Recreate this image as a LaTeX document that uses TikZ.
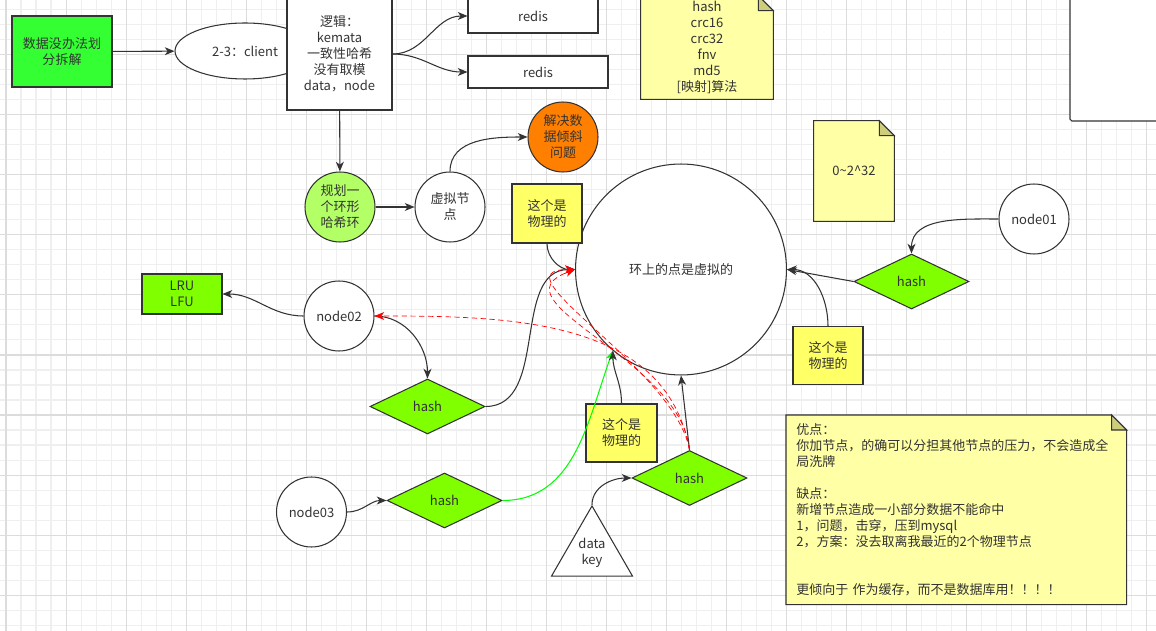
\documentclass[tikz,border=0pt]{standalone}
\usepackage{fontspec}
\setmainfont{Noto Sans CJK SC}
\usetikzlibrary{arrows.meta,shapes.geometric,backgrounds,positioning}
\definecolor{linec}{HTML}{333333}
\definecolor{brightgreen}{HTML}{33FF33}
\definecolor{limegreen}{HTML}{80FF00}
\definecolor{palegreen}{HTML}{B3FF66}
\definecolor{orangec}{HTML}{FF8000}
\definecolor{yellowc}{HTML}{FFFF66}
\definecolor{notec}{HTML}{FFFFA6}
\definecolor{foldc}{HTML}{CDCD7A}
\definecolor{gridminor}{HTML}{EFEFEF}
\definecolor{gridmajor}{HTML}{DCDCDC}

\begin{document}
\begin{tikzpicture}
    [x=0.02cm, y=-0.02cm,
    >={Stealth[length=5.5pt,width=4.5pt,inset=1.6pt]},
    every node/.style={font=\fontsize{7.4}{9.1}\selectfont, text=linec, align=center},
    block/.style={rectangle, draw=linec, semithick, fill=white, inner sep=0pt},
    round/.style={circle, draw=linec, semithick, fill=white, minimum size=1.4cm, inner sep=0pt},
    hashbox/.style={diamond, draw=linec, semithick, fill=limegreen, minimum width=2.3cm, minimum height=1.1cm, inner sep=0pt},
    physbox/.style={block, fill=yellowc, minimum width=1.4cm, minimum height=1.16cm},
    note/.style={rectangle, inner sep=0pt},
    post/.style={->,semithick,draw=linec},
    greenpost/.style={->,semithick,draw=green},
    redpost/.style={->,thin,draw=red,dash pattern=on 3pt off 2pt}]
    \useasboundingbox (0,0) rectangle (1156,631);

    % top row
    \node[block, fill=brightgreen, minimum width=2cm, minimum height=1.42cm] (split) at (62,51.5) {数据没办法划\\分拆解};
    \node[ellipse, draw=linec, semithick, fill=white, minimum width=2.8cm, minimum height=1.12cm, inner sep=0pt] (client) at (245,51) {2-3：client};
    \node[block, minimum width=2.1cm, minimum height=2.24cm] (logic) at (339.5,54) {逻辑：\\kemata\\一致性哈希\\没有取模\\data，node};
    \node[block, minimum width=2.6cm, minimum height=0.68cm] (redisa) at (533,16) {redis};
    \node[block, minimum width=2.8cm, minimum height=0.64cm] (redisb) at (538,72) {redis};
    \node[note, minimum width=2.64cm, minimum height=2.06cm] (algo) at (707,47.5) {hash\\crc16\\crc32\\fnv\\md5\\{[映射]算法}};
    \node[note, minimum width=1.6cm, minimum height=2cm] (range) at (854,171) {0\textasciitilde2\textasciicircum32};
    \node[block, rounded corners=1pt, minimum width=1.8cm, minimum height=2.62cm] (panel) at (1115,55.5) {};

    % ring
    \node[round, fill=palegreen] (plan) at (340,207) {规划一\\个环形\\哈希环};
    \node[round] (virt) at (450,207) {虚拟节\\点};
    \node[round, fill=orangec] (skew) at (563,137) {解决数\\据倾斜\\问题};
    \node[circle, draw=linec, semithick, fill=white, minimum size=4.22cm, inner sep=0pt] (ring) at (681,269.5) {环上的点是虚拟的};
    \node[physbox, minimum height=1.18cm] (phys1) at (547,213.5) {这个是\\物理的};
    \node[physbox] (phys2) at (828,355.5) {这个是\\物理的};
    \node[physbox, minimum width=1.42cm] (phys3) at (621.5,433) {这个是\\物理的};

    % nodes and hashes
    \node[round] (node01) at (1034,219) {node01};
    \node[hashbox] (hash1) at (911.5,281.5) {hash};
    \node[round] (node02) at (339,316) {node02};
    \node[block, fill=limegreen, minimum width=1.6cm, minimum height=0.8cm] (cache) at (182,294) {LRU\\LFU};
    \node[hashbox] (hash2) at (427.5,406.5) {hash};
    \node[round] (node03) at (311.5,512) {node03};
    \node[hashbox] (hash3) at (444.5,500.5) {hash};
    \node[hashbox] (hash4) at (689.5,478) {hash};
    \node[regular polygon, regular polygon sides=3, draw=linec, semithick, fill=white, minimum size=1.87cm, inner sep=0pt] (key) at (592,552.7) {data\\key};

    \node[note, anchor=north west, text width=6.4cm, align=left, inner xsep=0.2cm, minimum height=3.78cm] (pros) at (786,415)
      {优点：\\你加节点，的确可以分担其他节点的压力，不会造成全\\局洗牌\\[9.1pt]缺点：\\新增节点造成一小部分数据不能命中\\1，问题，击穿，压到mysql\\2，方案：没去取离我最近的2个物理节点\\[18.2pt]更倾向于 作为缓存，而不是数据库用！！！！};

    % connectors
    \draw[post] (split) -- (client);
    \draw[post] (logic.east) to[out=0,in=180] (redisa.west);
    \draw[post] (logic.east) to[out=0,in=180] (redisb.west);
    \draw[post] (logic) -- (plan);
    \draw[post] (plan) -- (virt);
    \draw[post] (virt.north) to[out=90,in=180] (skew.west);
    \draw[post] (node01.west) to[out=180,in=90] (hash1.north);
    \draw[post] (hash1.west) -- (ring.east);
    \draw[post] (phys2.north) to[out=90,in=0] (ring.east);
    \draw[post] (node02.west) to[out=180,in=0] (cache.east);
    \draw[post] (node02.east) to[out=0,in=90] (hash2.north);
    \draw[post] (phys1.south) to[out=-90,in=180] (ring.west);
    \draw[post] (hash2.east) to[out=0,in=180] (ring.west);
    \draw[post] (node03.east) to[out=0,in=180] (hash3.west);
    \draw[greenpost] (hash3.east) to[out=0,in=250] (ring.230);
    \draw[post] (phys3.north) to[out=90,in=-90] (ring.230);
    \draw[post] (key.corner 1) to[out=90,in=180] (hash4.west);
    \draw[post] (hash4.north) -- (ring.south);
    \draw[redpost] (hash4.north) to[out=95,in=200,looseness=1.1] (ring.west);
    \draw[redpost] (hash4.north) to[out=100,in=180] (ring.west);
    \draw[redpost] (hash4.north) to[out=100,in=0] (node02.east);

    % grid and notes
    \begin{scope}[on background layer]
      \fill[white] (0,0) rectangle (1156,631);
      \foreach \i in {0,...,76}
        \draw[gridminor, line width=0.57pt] ({6+15*\i},0) -- ({6+15*\i},631);
      \foreach \j in {0,...,41}
        \draw[gridminor, line width=0.57pt] (0,{10+15*\j}) -- (1156,{10+15*\j});
      \foreach \i in {0,...,19}
        \draw[gridmajor, line width=0.57pt] ({6+60*\i},0) -- ({6+60*\i},631);
      \foreach \j in {0,...,10}
        \draw[gridmajor, line width=0.57pt] (0,{55+60*\j}) -- (1156,{55+60*\j});
      \foreach \n in {algo,range,pros} {
        \filldraw[draw=linec, semithick, fill=notec] (\n.south west) -- (\n.north west)
          -- ([xshift=-0.3cm]\n.north east) -- ([yshift=-0.3cm]\n.north east) -- (\n.south east) -- cycle;
        \filldraw[draw=linec, semithick, fill=foldc] ([xshift=-0.3cm]\n.north east)
          -- ([xshift=-0.3cm,yshift=-0.3cm]\n.north east) -- ([yshift=-0.3cm]\n.north east) -- cycle;
      }
    \end{scope}
\end{tikzpicture}
\end{document}
